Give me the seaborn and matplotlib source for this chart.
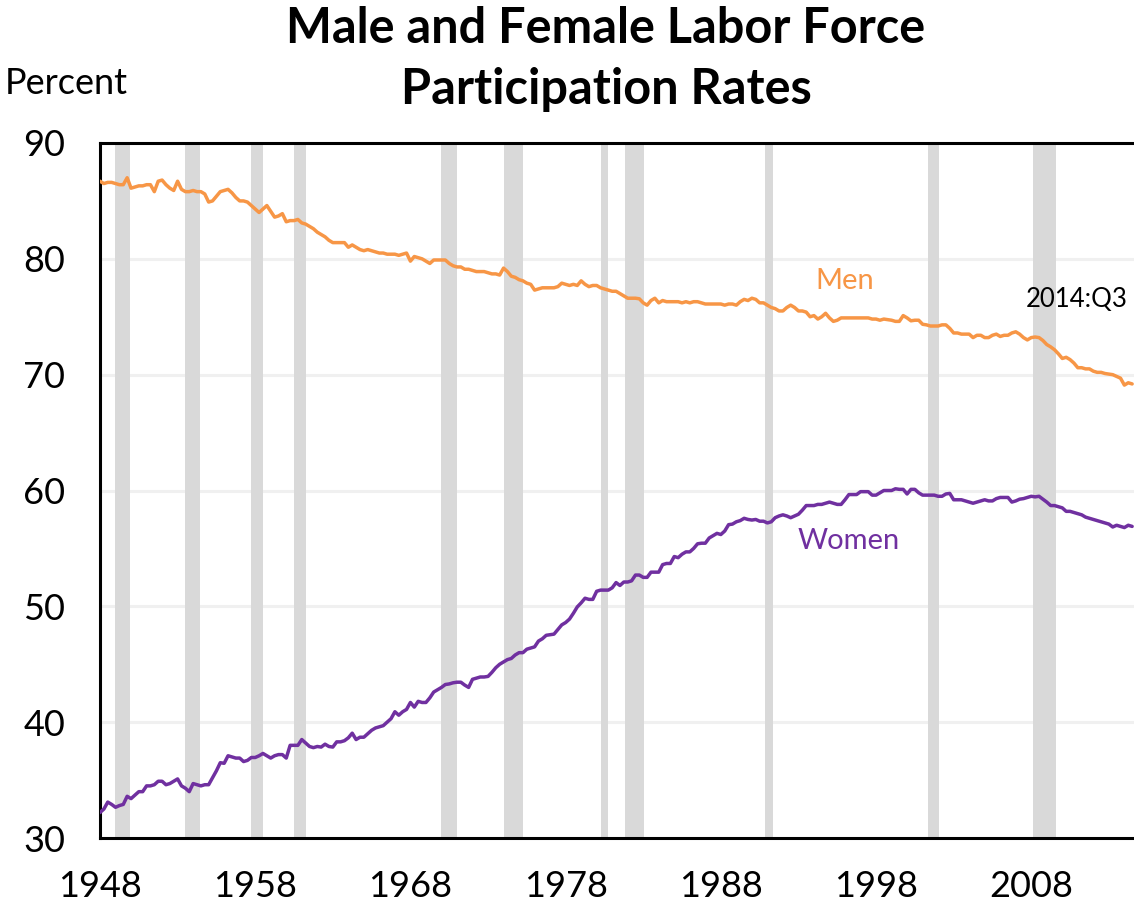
import numpy as np
import pandas as pd
import matplotlib
matplotlib.use("Agg")
import matplotlib.pyplot as plt
import seaborn as sns

# ---------------- data (quarterly, 1948:Q1 - 2014:Q3) ----------------
first_year = 1948
last_label = "2014:Q3"

men = [
    86.7, 86.5, 86.6, 86.6,  # 1948
    86.5, 86.4, 86.4, 87.0,  # 1949
    86.1, 86.2, 86.3, 86.3,  # 1950
    86.4, 86.4, 85.8, 86.7,  # 1951
    86.8, 86.4, 86.1, 85.9,  # 1952
    86.7, 86.0, 85.8, 85.8,  # 1953
    85.9, 85.8, 85.8, 85.6,  # 1954
    84.9, 85.0, 85.4, 85.8,  # 1955
    85.9, 86.0, 85.7, 85.3,  # 1956
    85.0, 85.0, 84.9, 84.6,  # 1957
    84.3, 84.0, 84.3, 84.6,  # 1958
    84.1, 83.6, 83.7, 83.9,  # 1959
    83.2, 83.3, 83.3, 83.4,  # 1960
    83.1, 83.0, 82.8, 82.6,  # 1961
    82.3, 82.1, 81.9, 81.6,  # 1962
    81.4, 81.4, 81.4, 81.4,  # 1963
    81.0, 81.2, 81.0, 80.8,  # 1964
    80.7, 80.8, 80.7, 80.6,  # 1965
    80.5, 80.5, 80.4, 80.4,  # 1966
    80.4, 80.3, 80.4, 80.5,  # 1967
    79.8, 80.2, 80.1, 80.0,  # 1968
    79.8, 79.6, 79.9, 79.9,  # 1969
    79.9, 79.9, 79.6, 79.4,  # 1970
    79.3, 79.3, 79.1, 79.1,  # 1971
    79.0, 78.9, 78.9, 78.9,  # 1972
    78.8, 78.7, 78.7, 78.6,  # 1973
    79.2, 78.9, 78.5, 78.4,  # 1974
    78.2, 78.1, 77.9, 77.8,  # 1975
    77.3, 77.4, 77.5, 77.5,  # 1976
    77.5, 77.5, 77.6, 77.9,  # 1977
    77.8, 77.7, 77.8, 77.7,  # 1978
    78.1, 77.8, 77.6, 77.7,  # 1979
    77.7, 77.5, 77.4, 77.3,  # 1980
    77.2, 77.2, 77.0, 76.8,  # 1981
    76.6, 76.6, 76.6, 76.55,  # 1982
    76.2, 76.0, 76.4, 76.6,  # 1983
    76.2, 76.4, 76.3, 76.3,  # 1984
    76.3, 76.3, 76.2, 76.3,  # 1985
    76.2, 76.3, 76.3, 76.2,  # 1986
    76.1, 76.1, 76.1, 76.1,  # 1987
    76.1, 76.0, 76.1, 76.1,  # 1988
    76.0, 76.3, 76.5, 76.4,  # 1989
    76.6, 76.5, 76.2, 76.2,  # 1990
    76.0, 75.8, 75.7, 75.5,  # 1991
    75.5, 75.8, 76.0, 75.8,  # 1992
    75.5, 75.5, 75.4, 75.0,  # 1993
    75.1, 74.8, 75.0, 75.3,  # 1994
    74.9, 74.6, 74.7, 74.9,  # 1995
    74.9, 74.9, 74.9, 74.9,  # 1996
    74.9, 74.9, 74.9, 74.8,  # 1997
    74.8, 74.7, 74.8, 74.75,  # 1998
    74.7, 74.6, 74.6, 75.1,  # 1999
    74.9, 74.65, 74.7, 74.7,  # 2000
    74.35, 74.3, 74.2, 74.2,  # 2001
    74.2, 74.3, 74.3, 74.0,  # 2002
    73.6, 73.6, 73.5, 73.5,  # 2003
    73.5, 73.2, 73.4, 73.4,  # 2004
    73.2, 73.2, 73.4, 73.5,  # 2005
    73.3, 73.4, 73.4, 73.6,  # 2006
    73.7, 73.5, 73.2, 73.0,  # 2007
    73.2, 73.25, 73.2, 72.95,  # 2008
    72.6, 72.4, 72.15, 71.8,  # 2009
    71.4, 71.5, 71.3, 71.0,  # 2010
    70.6, 70.6, 70.5, 70.5,  # 2011
    70.3, 70.2, 70.2, 70.1,  # 2012
    70.05, 70.0, 69.85, 69.7,  # 2013
    69.1, 69.3, 69.2,  # 2014
]

women = [
    32.2, 32.5, 33.1, 32.9,  # 1948
    32.65, 32.8, 32.9, 33.6,  # 1949
    33.4, 33.7, 34.0, 34.0,  # 1950
    34.5, 34.5, 34.6, 34.9,  # 1951
    34.9, 34.6, 34.7, 34.9,  # 1952
    35.1, 34.5, 34.3, 34.0,  # 1953
    34.7, 34.6, 34.5, 34.6,  # 1954
    34.6, 35.2, 35.8, 36.5,  # 1955
    36.45, 37.1, 37.0, 36.9,  # 1956
    36.9, 36.6, 36.7, 36.95,  # 1957
    36.95, 37.1, 37.3, 37.1,  # 1958
    36.9, 37.1, 37.2, 37.2,  # 1959
    36.9, 38.0, 38.0, 38.0,  # 1960
    38.5, 38.2, 37.9, 37.8,  # 1961
    37.9, 37.85, 38.1, 37.9,  # 1962
    37.85, 38.3, 38.3, 38.4,  # 1963
    38.65, 39.05, 38.5, 38.7,  # 1964
    38.7, 39.0, 39.3, 39.5,  # 1965
    39.6, 39.7, 40.0, 40.3,  # 1966
    40.9, 40.6, 40.9, 41.1,  # 1967
    41.7, 41.3, 41.8, 41.7,  # 1968
    41.7, 42.1, 42.6, 42.8,  # 1969
    43.0, 43.25, 43.3, 43.4,  # 1970
    43.45, 43.45, 43.2, 43.0,  # 1971
    43.7, 43.8, 43.9, 43.9,  # 1972
    43.95, 44.3, 44.7, 45.0,  # 1973
    45.2, 45.4, 45.5, 45.8,  # 1974
    46.0, 46.0, 46.3, 46.4,  # 1975
    46.5, 47.0, 47.2, 47.5,  # 1976
    47.55, 47.6, 48.0, 48.4,  # 1977
    48.6, 48.9, 49.4, 49.95,  # 1978
    50.3, 50.7, 50.6, 50.6,  # 1979
    51.3, 51.4, 51.4, 51.4,  # 1980
    51.6, 52.05, 51.8, 52.1,  # 1981
    52.1, 52.2, 52.7, 52.7,  # 1982
    52.5, 52.5, 52.95, 52.95,  # 1983
    52.95, 53.6, 53.7, 53.7,  # 1984
    54.3, 54.2, 54.5, 54.7,  # 1985
    54.7, 55.0, 55.4, 55.45,  # 1986
    55.45, 55.9, 56.1, 56.3,  # 1987
    56.2, 56.5, 57.05, 57.1,  # 1988
    57.3, 57.4, 57.6, 57.5,  # 1989
    57.45, 57.5, 57.35, 57.35,  # 1990
    57.2, 57.3, 57.65, 57.8,  # 1991
    57.9, 57.8, 57.65, 57.8,  # 1992
    57.95, 58.3, 58.7, 58.7,  # 1993
    58.7, 58.8, 58.8, 58.9,  # 1994
    59.0, 58.9, 58.8, 58.8,  # 1995
    59.2, 59.65, 59.65, 59.65,  # 1996
    59.9, 59.9, 59.9, 59.6,  # 1997
    59.6, 59.8, 60.0, 60.0,  # 1998
    60.0, 60.15, 60.1, 60.1,  # 1999
    59.7, 60.1, 60.1, 59.8,  # 2000
    59.6, 59.6, 59.6, 59.6,  # 2001
    59.5, 59.5, 59.7, 59.75,  # 2002
    59.2, 59.2, 59.2, 59.1,  # 2003
    59.0, 58.9, 59.0, 59.1,  # 2004
    59.2, 59.1, 59.1, 59.3,  # 2005
    59.4, 59.4, 59.4, 59.0,  # 2006
    59.1, 59.25, 59.3, 59.4,  # 2007
    59.5, 59.45, 59.5, 59.25,  # 2008
    59.0, 58.7, 58.7, 58.6,  # 2009
    58.5, 58.2, 58.2, 58.1,  # 2010
    58.0, 57.9, 57.7, 57.6,  # 2011
    57.5, 57.4, 57.3, 57.2,  # 2012
    57.1, 56.85, 57.0, 56.9,  # 2013
    56.8, 57.0, 56.9,  # 2014
]

# recession periods (shaded), in fractional years
rec_start = [1948.95, 1953.5, 1957.72, 1960.5, 1970.0, 1974.0, 1980.27, 1981.8, 1990.82, 2001.35, 2008.1]
rec_end = [1949.92, 1954.45, 1958.48, 1961.25, 1971.0, 1975.25, 1980.75, 1983.05, 1991.35, 2002.08, 2009.57]

x_ticks = [1948, 1958, 1968, 1978, 1988, 1998, 2008]
y_ticks = [30, 40, 50, 60, 70, 80, 90]

# ---------------- build frame ----------------
n = len(men)
t = first_year + np.arange(n) / 4.0
df = pd.DataFrame({
    "t": np.concatenate([t, t]),
    "rate": np.concatenate([men, women]),
    "series": ["Men"] * n + ["Women"] * n,
})

sns.set_theme(style="white")
plt.rcParams["font.family"] = ["Lato", "DejaVu Sans"]
plt.rcParams["text.color"] = "black"

ORANGE = "#F79646"
PURPLE = "#7030A0"

fig = plt.figure(figsize=(11.34, 9.08), dpi=100)
ax = fig.add_axes([100 / 1134, 1 - 838 / 908, 1 - 100 / 1134, (838 - 143) / 908])

for y in y_ticks[1:-1]:
    ax.axhline(y, color="#F0F0F0", lw=2.2, zorder=0)

for s, e in zip(rec_start, rec_end):
    ax.axvspan(s, e, color="#D9D9D9", lw=0, zorder=1)

sns.lineplot(data=df, x="t", y="rate", hue="series",
             palette={"Men": ORANGE, "Women": PURPLE},
             lw=2.5, ax=ax, legend=False, zorder=3)

ax.set_xlim(1948, 2014.62)
ax.set_ylim(30, 90)
ax.set_xticks(x_ticks)
ax.set_yticks(y_ticks)
ax.set_xlabel("")
ax.set_ylabel("")
ax.tick_params(axis="both", direction="in", length=9, width=2.2, color="black",
               labelsize=26, labelcolor="black")
ax.tick_params(axis="y", pad=25)
ax.tick_params(axis="x", pad=23)

for side in ["left", "bottom", "top"]:
    ax.spines[side].set_visible(True)
    ax.spines[side].set_color("black")
    ax.spines[side].set_linewidth(2.2)
ax.spines["right"].set_visible(False)
ax.grid(False)

ax.text(1996.0, 78.1, "Men", color=ORANGE, fontsize=21, ha="center", va="center")
ax.text(1996.25, 55.65, "Women", color=PURPLE, fontsize=21, ha="center", va="center")
ax.text(2010.9, 76.5, last_label, color="black", fontsize=18.5, ha="center", va="center")

fig.text(66 / 1134, 1 - 84 / 908, "Percent", fontsize=26, ha="center", va="center",
         color="black")
fig.text(606 / 1134, 1 - 59 / 908, "Male and Female Labor Force\nParticipation Rates",
         fontsize=35, fontweight="bold", ha="center", va="center", linespacing=1.45,
         color="black")

fig.savefig("out.png", dpi=100)
